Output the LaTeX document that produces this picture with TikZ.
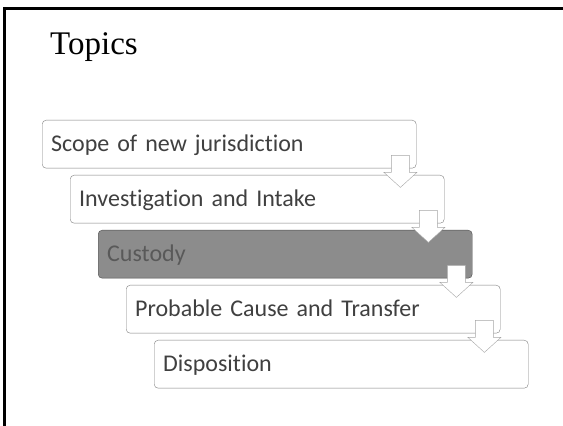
\documentclass[tikz,border=0pt]{standalone}
\usepackage{fontspec}
\setmainfont{Liberation Serif}
\newfontfamily\topicfont[Ligatures=CommonOff]{Carlito}
\usepackage{tikz}
\usetikzlibrary{calc}

\definecolor{boxline}{HTML}{7F7F7F}
\definecolor{boxtext}{HTML}{404040}
\definecolor{hifill}{HTML}{8C8C8C}
\definecolor{hitext}{HTML}{595959}
\definecolor{arrowline}{HTML}{A6A6A6}

\begin{document}
\begin{tikzpicture}[x=1pt, y=1pt,
    topic/.style={draw=boxline, fill=white, rounded corners=4pt, anchor=north west,
        minimum height=48pt, text width=356pt, inner xsep=9pt, align=left,
        text height=17pt, text depth=2pt, text=boxtext,
        font=\topicfont\fontsize{24}{29}\selectfont},
    current/.style={fill=hifill, draw=black!70, text=hitext},
    flowarrow/.style={draw=arrowline, fill=white, line join=miter}]
    \useasboundingbox (0,0) rectangle (563,426);

    % Frame and title
    \draw[line width=2.6pt] (4.5,0) -- (4.5,417.5) -- (563,417.5);
    \node[anchor=base west, inner sep=0pt, font=\fontsize{33}{40}\selectfont] (title) at (50,371) {Topics};

    % Topics
    \node[topic] (scope) at (42,306) {Scope of new jurisdiction};
    \node[topic] (intake) at (70,251) {Investigation and Intake};
    \node[topic, current] (custody) at (98,196) {Custody};
    \node[topic] (cause) at (126,141) {Probable Cause and Transfer};
    \node[topic] (dispo) at (154,86) {Disposition};

    % Arrows between topics
    \draw[flowarrow] ($(scope.south east)+(-25,13)$) -- ++(18,0) -- ++(0,-17) -- ++(7.5,0)
        -- ++(-16.5,-15) -- ++(-16.5,15) -- ++(7.5,0) -- cycle;
    \draw[flowarrow] ($(intake.south east)+(-25,13)$) -- ++(18,0) -- ++(0,-17) -- ++(7.5,0)
        -- ++(-16.5,-15) -- ++(-16.5,15) -- ++(7.5,0) -- cycle;
    \draw[flowarrow] ($(custody.south east)+(-25,13)$) -- ++(18,0) -- ++(0,-17) -- ++(7.5,0)
        -- ++(-16.5,-15) -- ++(-16.5,15) -- ++(7.5,0) -- cycle;
    \draw[flowarrow] ($(cause.south east)+(-25,13)$) -- ++(18,0) -- ++(0,-17) -- ++(7.5,0)
        -- ++(-16.5,-15) -- ++(-16.5,15) -- ++(7.5,0) -- cycle;

\end{tikzpicture}
\end{document}
